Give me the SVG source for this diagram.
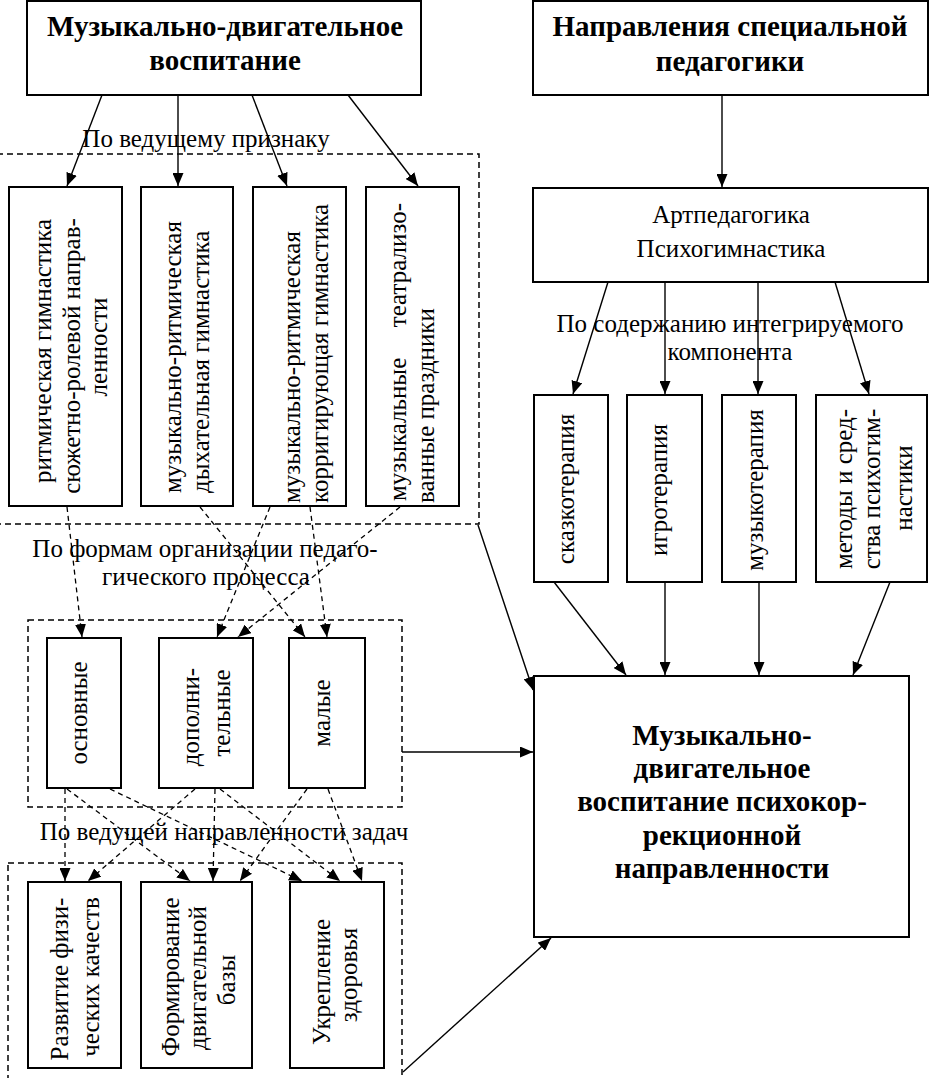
<svg xmlns="http://www.w3.org/2000/svg" width="929" height="1078" viewBox="0 0 929 1078">
<defs>
<marker id="ah" markerWidth="13" markerHeight="11" refX="13" refY="5.5" orient="auto" markerUnits="userSpaceOnUse">
<path d="M0,0 L13,5.5 L0,11 Z" fill="#000"/>
</marker>
<style>
.box{fill:#fff;stroke:#000;stroke-width:2}
.grp{fill:none;stroke:#000;stroke-width:1.5;stroke-dasharray:6 4}
.c{fill:none;stroke:#000;stroke-width:1.4;marker-end:url(#ah)}
.d{fill:none;stroke:#000;stroke-width:1.3;stroke-dasharray:5 4;marker-end:url(#ah)}
.t{font-family:"Liberation Serif","Times New Roman",serif;font-size:25px;fill:#000}
.b{font-family:"Liberation Serif","Times New Roman",serif;font-size:29px;font-weight:bold;fill:#000}
.m{text-anchor:middle}
.s{text-anchor:start}
.e{text-anchor:end}
</style>
</defs>
<rect width="929" height="1078" fill="#fff"/>

<g id="groups">
<rect class="grp" x="-3" y="154" width="482" height="370"/>
<rect class="grp" x="28" y="620" width="374" height="187"/>
<rect class="grp" x="8" y="863" width="394" height="230"/>
</g>

<g id="labels">
<text class="t m" x="206" y="147">По ведущему признаку</text>
<text class="t m" x="205" y="557">По формам организации педаго-</text>
<text class="t m" x="206" y="585">гического процесса</text>
<text class="t m" x="224" y="840">По ведущей направленности задач</text>
<text class="t m" x="730" y="332">По содержанию интегрируемого</text>
<text class="t m" x="730" y="360">компонента</text>
</g>

<g id="connectors">
<line class="c" x1="102" y1="95" x2="67" y2="186"/>
<line class="c" x1="178" y1="95" x2="178" y2="186"/>
<line class="c" x1="252" y1="95" x2="287" y2="186"/>
<line class="c" x1="348" y1="95" x2="418" y2="186"/>
<line class="c" x1="722" y1="95" x2="722" y2="187"/>
<line class="c" x1="608" y1="282" x2="573" y2="394"/>
<line class="c" x1="665" y1="282" x2="665" y2="394"/>
<line class="c" x1="758" y1="282" x2="758" y2="394"/>
<line class="c" x1="835" y1="282" x2="869" y2="394"/>
<line class="c" x1="554" y1="582" x2="626" y2="675"/>
<line class="c" x1="665" y1="582" x2="665" y2="675"/>
<line class="c" x1="759" y1="582" x2="759" y2="675"/>
<line class="c" x1="890" y1="582" x2="853" y2="675"/>
<line class="c" x1="478" y1="525" x2="533" y2="690"/>
<line class="c" x1="402" y1="752" x2="533" y2="752"/>
<line class="c" x1="403" y1="1072" x2="551" y2="938"/>
<line class="d" x1="67" y1="507" x2="82" y2="637"/>
<line class="d" x1="200" y1="507" x2="305" y2="637"/>
<line class="d" x1="270" y1="507" x2="217" y2="637"/>
<line class="d" x1="310" y1="507" x2="327" y2="637"/>
<line class="d" x1="400" y1="507" x2="238" y2="637"/>
<line class="d" x1="65" y1="789" x2="65" y2="881"/>
<line class="d" x1="67" y1="789" x2="190" y2="881"/>
<line class="d" x1="110" y1="789" x2="302" y2="881"/>
<line class="d" x1="195" y1="789" x2="88" y2="881"/>
<line class="d" x1="215" y1="789" x2="213" y2="881"/>
<line class="d" x1="220" y1="789" x2="340" y2="881"/>
<line class="d" x1="307" y1="789" x2="240" y2="881"/>
<line class="d" x1="328" y1="789" x2="362" y2="881"/>
</g>

<g id="n-mdv">
<rect class="box" x="27" y="1" width="394" height="94"/>
<text class="b m" x="225" y="36">Музыкально-двигательное</text>
<text class="b m" x="225" y="70">воспитание</text>
</g>
<g id="n-nsp">
<rect class="box" x="533" y="1" width="395" height="94"/>
<text class="b m" x="730" y="36">Направления специальной</text>
<text class="b m" x="730" y="71">педагогики</text>
</g>
<g id="n-art">
<rect class="box" x="533" y="188" width="395" height="94"/>
<text class="t m" x="731" y="223">Артпедагогика</text>
<text class="t m" x="731" y="257">Психогимнастика</text>
</g>

<g id="n-r1">
<rect class="box" x="9" y="187" width="113" height="319"/>
<text class="t m" transform="translate(51,351) rotate(-90)">ритмическая гимнастика</text>
<text class="t m" transform="translate(80,356) rotate(-90)">сюжетно-ролевой направ-</text>
<text class="t m" transform="translate(107,347) rotate(-90)">ленности</text>
</g>
<g id="n-r2">
<rect class="box" x="141" y="187" width="92" height="319"/>
<text class="t s" transform="translate(181,493) rotate(-90)">музыкально-ритмическая</text>
<text class="t s" transform="translate(209,493) rotate(-90)">дыхательная гимнастика</text>
</g>
<g id="n-r3">
<rect class="box" x="253" y="187" width="93" height="319"/>
<text class="t s" transform="translate(300,503) rotate(-90)">музыкально-ритмическая</text>
<text class="t s" transform="translate(328,503) rotate(-90)">корригирующая гимнастика</text>
</g>
<g id="n-r4">
<rect class="box" x="366" y="187" width="93" height="319"/>
<text class="t s" transform="translate(406,501) rotate(-90)">музыкальные</text>
<text class="t e" transform="translate(406,203) rotate(-90)">театрализо-</text>
<text class="t s" transform="translate(434,503) rotate(-90)">ванные праздники</text>
</g>

<g id="n-skaz">
<rect class="box" x="534" y="395" width="74" height="187"/>
<text class="t m" transform="translate(574,489) rotate(-90)">сказкотерапия</text>
</g>
<g id="n-igro">
<rect class="box" x="627" y="395" width="75" height="187"/>
<text class="t m" transform="translate(667,490) rotate(-90)">игротерапия</text>
</g>
<g id="n-muzt">
<rect class="box" x="722" y="395" width="74" height="187"/>
<text class="t m" transform="translate(763,490) rotate(-90)">музыкотерапия</text>
</g>
<g id="n-met">
<rect class="box" x="816" y="395" width="111" height="187"/>
<text class="t m" transform="translate(852,489) rotate(-90)">методы и сред-</text>
<text class="t m" transform="translate(880,489) rotate(-90)">ства психогим-</text>
<text class="t m" transform="translate(912,488) rotate(-90)">настики</text>
</g>

<g id="n-osn">
<rect class="box" x="47" y="638" width="74" height="150"/>
<text class="t m" transform="translate(87,713) rotate(-90)">основные</text>
</g>
<g id="n-dop">
<rect class="box" x="159" y="638" width="94" height="150"/>
<text class="t m" transform="translate(199,717) rotate(-90)">дополни-</text>
<text class="t m" transform="translate(230,713) rotate(-90)">тельные</text>
</g>
<g id="n-mal">
<rect class="box" x="289" y="638" width="76" height="150"/>
<text class="t m" transform="translate(330,713) rotate(-90)">малые</text>
</g>

<g id="n-raz">
<rect class="box" x="28" y="882" width="93" height="186"/>
<text class="t m" transform="translate(68,979) rotate(-90)">Развитие физи-</text>
<text class="t m" transform="translate(99,977) rotate(-90)">ческих качеств</text>
</g>
<g id="n-form">
<rect class="box" x="141" y="882" width="111" height="186"/>
<text class="t m" transform="translate(179,977) rotate(-90)">Формирование</text>
<text class="t m" transform="translate(206,978) rotate(-90)">двигательной</text>
<text class="t m" transform="translate(235,980) rotate(-90)">базы</text>
</g>
<g id="n-ukr">
<rect class="box" x="290" y="882" width="94" height="186"/>
<text class="t m" transform="translate(330,982) rotate(-90)">Укрепление</text>
<text class="t m" transform="translate(357,975) rotate(-90)">здоровья</text>
</g>

<g id="n-big">
<rect class="box" x="534" y="676" width="375" height="261"/>
<text class="b m" x="722" y="745">Музыкально-</text>
<text class="b m" x="722" y="778">двигательное</text>
<text class="b m" x="722" y="811">воспитание психокор-</text>
<text class="b m" x="722" y="845">рекционной</text>
<text class="b m" x="722" y="878">направленности</text>
</g>
</svg>
